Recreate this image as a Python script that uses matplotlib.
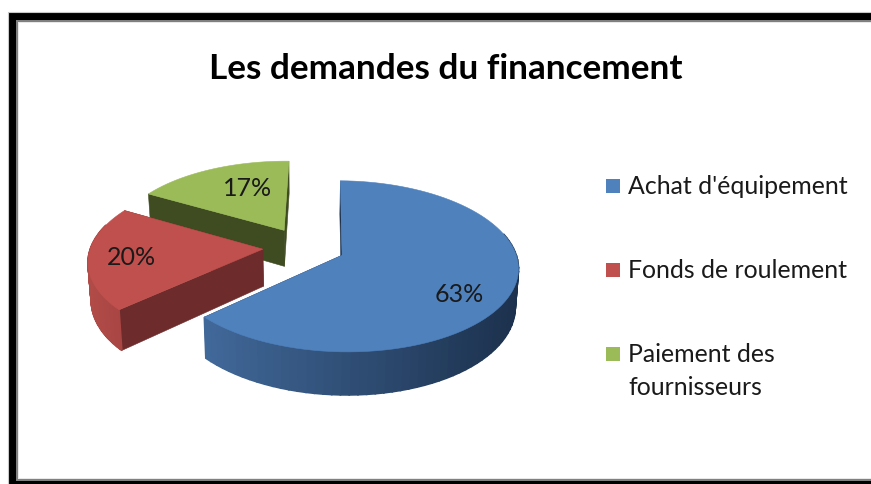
import numpy as np
import matplotlib
matplotlib.use("Agg")
import matplotlib.pyplot as plt
from matplotlib.patches import Polygon, Rectangle
from matplotlib.colors import to_rgb

title = "Les demandes du financement"
categories = ["Achat d'équipement", "Fonds de roulement", "Paiement des\nfournisseurs"]
values = [63, 20, 17]
pct_labels = ["63%", "20%", "17%"]

top_colors = ["#4f81bd", "#c0504d", "#9bbb59"]
cut_colors = ["#1d3350", "#6d2b2b", "#3f4b20"]
rim_left = ["#41699a", "#b04b48", "#3f4b20"]
rim_right = ["#1c314d", "#a84542", "#3f4b20"]

# pie geometry, in pixels
cx, cy = 304, 247
rx, ry = 172, 82
persp = 0.128
depth = 37
explode = 0.24
bottom_shrink = 0.985
rotation = np.radians(1)
label_r = [0.75, 0.75, 0.55]
label_shift = [(-8, 12), (-1, 2), (5, -7)]


def project(X, Y, down=False):
    # ground plane to picture, front of the pie is drawn bigger
    d = 1 + persp * Y
    x = rx * X / d
    y = cy - ry * Y / d
    if down:
        x = x * bottom_shrink
        y = y + depth / d
    return cx + x, y


def ground(ang, r, ox, oy):
    return ox + r * np.sin(ang), oy + r * np.cos(ang)


fig = plt.figure(figsize=(8.71, 4.84), dpi=100)
ax = fig.add_axes([0, 0, 1, 1])
ax.set_xlim(0, 871)
ax.set_ylim(484, 0)
ax.axis("off")

# frame
ax.add_patch(Rectangle((8, 12), 900, 500, fc="#000000", ec="#c8c8c8", lw=0.8))
ax.add_patch(Rectangle((16, 20), 900, 461, fc="#808080", ec="none"))
ax.add_patch(Rectangle((18, 22), 900, 457, fc="#e8e8e8", ec="none"))
ax.add_patch(Rectangle((19, 23), 900, 455, fc="#ffffff", ec="none"))

edges = np.cumsum([0] + values) / sum(values) * 2 * np.pi + rotation
mids = (edges[:-1] + edges[1:]) / 2

# back slices first
for i in [2, 1, 0]:
    a0, a1 = edges[i], edges[i + 1]
    ox, oy = explode * np.sin(mids[i]), explode * np.cos(mids[i])
    arc = np.linspace(a0, a1, 90)
    X, Y = ground(arc, 1, ox, oy)

    # the two cut faces
    for a in (a0, a1):
        ex, ey = ground(a, 1, ox, oy)
        pts = [project(ex, ey), project(ox, oy), project(ox, oy, True), project(ex, ey, True)]
        ax.add_patch(Polygon(pts, fc=cut_colors[i], ec=cut_colors[i], lw=0.4))

    # outer wall, shaded along x
    px = project(X, Y)[0]
    c0, c1 = np.array(to_rgb(rim_left[i])), np.array(to_rgb(rim_right[i]))
    for j in range(len(arc) - 1):
        if Y[j] > oy + 0.3:
            continue
        t = (px[j] - px.min()) / (px.max() - px.min())
        col = c0 + (c1 - c0) * t
        pts = [project(X[j], Y[j]), project(X[j + 1], Y[j + 1]),
               project(X[j + 1], Y[j + 1], True), project(X[j], Y[j], True)]
        ax.add_patch(Polygon(pts, fc=col, ec=col, lw=1.2))

    # top face
    tx, ty = project(X, Y)
    ax0, ay0 = project(ox, oy)
    ax.add_patch(Polygon(np.column_stack([np.r_[ax0, tx], np.r_[ay0, ty]]),
                         fc=top_colors[i], ec=top_colors[i], lw=0.4))

    lx, ly = project(*ground(mids[i], label_r[i], ox, oy))
    ax.text(lx + label_shift[i][0], ly + label_shift[i][1], pct_labels[i], ha="center", va="center",
            fontsize=18, family="Lato", color="#1a1a1a")

ax.text(446, 69, title, ha="center", va="center", fontsize=25.3,
        family="Lato", weight="bold", color="#000000")

# legend
legend_y = [186, 270, 354]
text_y = [186, 270, 371]
for i in range(3):
    ax.add_patch(Rectangle((606, legend_y[i] - 7), 14, 14, fc=top_colors[i], ec="none"))
    ax.text(628, text_y[i], categories[i], ha="left", va="center",
            fontsize=17.9, family="Lato", color="#1a1a1a", linespacing=1.5)

plt.savefig("out.png", dpi=100)
